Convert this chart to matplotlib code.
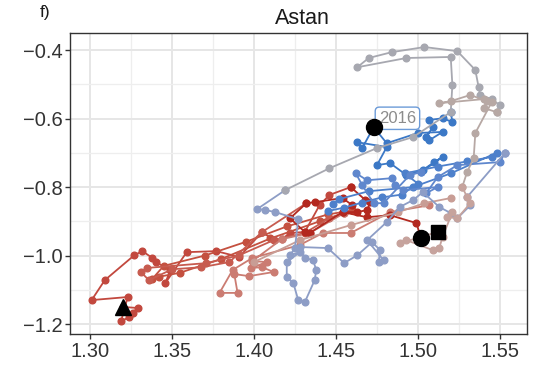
import matplotlib
matplotlib.use("Agg")
import matplotlib.pyplot as plt
from matplotlib.ticker import MultipleLocator

plt.rcParams['font.family'] = ['Liberation Sans', 'DejaVu Sans']

# ---- data ----
red_x = [1.320, 1.329, 1.326, 1.324, 1.319, 1.323, 1.301, 1.309, 1.327, 1.332, 1.338, 1.340,
         1.349, 1.346, 1.359, 1.377, 1.391, 1.405, 1.412, 1.417, 1.422, 1.431, 1.440, 1.446, 1.459]
red_y = [-1.150, -1.153, -1.168, -1.180, -1.191, -1.121, -1.130, -1.072, -0.999, -0.987, -1.007, -1.019,
         -1.042, -1.080, -0.990, -0.987, -1.004, -0.931, -0.955, -0.952, -0.934, -0.931, -0.853, -0.823, -0.800]

redextra_x = [1.338, 1.345, 1.370, 1.395, 1.420, 1.445, 1.460, 1.440, 1.410, 1.380, 1.355, 1.342]
redextra_y = [-1.068, -1.030, -1.000, -0.960, -0.915, -0.880, -0.868, -0.900, -0.950, -1.010, -1.050, -1.062]

darkred_x = [1.459, 1.468, 1.471, 1.469, 1.463, 1.454, 1.460, 1.454, 1.437, 1.432, 1.422, 1.431,
             1.434, 1.454, 1.469, 1.483, 1.499, 1.502]
darkred_y = [-0.800, -0.838, -0.844, -0.867, -0.873, -0.873, -0.853, -0.832, -0.844, -0.847, -0.891, -0.931,
             -0.934, -0.873, -0.888, -0.882, -0.905, -0.949]

red2_x = [1.432, 1.405, 1.385, 1.368, 1.350, 1.336, 1.331, 1.335, 1.371, 1.391, 1.412, 1.431, 1.446, 1.455]
red2_y = [-0.847, -0.931, -1.019, -1.034, -1.040, -1.072, -1.048, -1.036, -1.022, -0.999, -0.955, -0.934, -0.891, -0.876]

salmon_x = [1.455, 1.434, 1.417, 1.399, 1.408, 1.398, 1.405, 1.412, 1.397, 1.388, 1.390, 1.379,
            1.387, 1.399, 1.428, 1.442, 1.459, 1.483, 1.507]
salmon_y = [-0.876, -0.934, -0.952, -1.016, -1.019, -1.036, -1.034, -1.048, -1.060, -1.054, -1.109, -1.109,
            -1.042, -1.007, -0.969, -0.934, -0.934, -0.873, -0.853]

rose_x = [1.400, 1.428, 1.459, 1.488, 1.504, 1.520]
rose_y = [-1.019, -0.955, -0.911, -0.873, -0.847, -0.832]

blue_x = [1.520, 1.521, 1.515, 1.507, 1.509, 1.505, 1.507, 1.515, 1.500, 1.481, 1.473, 1.466,
          1.463, 1.481, 1.475, 1.483, 1.493, 1.503, 1.510, 1.515, 1.502]
blue_y = [-0.581, -0.610, -0.599, -0.604, -0.625, -0.654, -0.663, -0.639, -0.642, -0.672, -0.625, -0.686,
          -0.669, -0.683, -0.736, -0.730, -0.765, -0.750, -0.727, -0.712, -0.756]

blue2_x = [1.445, 1.455, 1.466, 1.478, 1.490, 1.500, 1.492, 1.512, 1.530, 1.545, 1.548, 1.520,
           1.497, 1.470, 1.452, 1.448]
blue2_y = [-0.870, -0.860, -0.845, -0.830, -0.822, -0.790, -0.760, -0.740, -0.725, -0.712, -0.700, -0.760,
           -0.800, -0.812, -0.835, -0.850]

midblue_x = [1.502, 1.495, 1.479, 1.473, 1.466, 1.462, 1.469, 1.484, 1.486, 1.491, 1.512, 1.505,
             1.512, 1.524, 1.550, 1.553]
midblue_y = [-0.756, -0.765, -0.847, -0.847, -0.794, -0.759, -0.780, -0.774, -0.794, -0.809, -0.800, -0.818,
             -0.771, -0.736, -0.727, -0.701]

slate_x = [1.553, 1.530, 1.532, 1.524, 1.520, 1.513, 1.503, 1.497, 1.489, 1.481, 1.469, 1.479,
           1.476, 1.477, 1.472, 1.463, 1.455, 1.445, 1.428, 1.431, 1.436, 1.438, 1.437, 1.431,
           1.427, 1.424, 1.420, 1.420, 1.428, 1.422, 1.425, 1.427, 1.413, 1.407, 1.402, 1.419]
slate_y = [-0.701, -0.829, -0.853, -0.891, -0.876, -0.858, -0.815, -0.838, -0.858, -0.902, -0.955, -1.013,
           -1.019, -0.984, -0.961, -0.999, -1.022, -0.978, -0.975, -1.007, -1.013, -1.042, -1.072, -1.136,
           -1.130, -1.080, -1.063, -1.019, -0.990, -0.999, -0.978, -0.894, -0.873, -0.867, -0.864, -0.809]

gray_x = [1.419, 1.446, 1.475, 1.497, 1.520, 1.521, 1.520, 1.493, 1.463, 1.470, 1.484, 1.504,
          1.524, 1.535, 1.537, 1.538, 1.545, 1.550, 1.548]
gray_y = [-0.809, -0.745, -0.686, -0.654, -0.581, -0.502, -0.420, -0.423, -0.450, -0.423, -0.406, -0.391,
          -0.403, -0.458, -0.508, -0.531, -0.543, -0.561, -0.581]

graybrown_x = [1.548, 1.540, 1.542, 1.532, 1.520, 1.513, 1.540, 1.545, 1.535, 1.534, 1.530, 1.527]
graybrown_y = [-0.581, -0.569, -0.549, -0.531, -0.549, -0.555, -0.543, -0.552, -0.642, -0.715, -0.756, -0.800]

roseend_x = [1.527, 1.530, 1.532, 1.524, 1.518, 1.521, 1.515, 1.513, 1.509, 1.493, 1.489, 1.512]
roseend_y = [-0.800, -0.829, -0.847, -0.891, -0.888, -0.873, -0.946, -0.978, -0.984, -0.955, -0.964, -0.931]

start_pt = (1.320, -1.150)
end_pt = (1.512, -0.931)
circle_x = [1.473, 1.502]
circle_y = [-0.624, -0.949]
label_text = "2016"
label_pos = (1.4875, -0.599)

x_ticks = [1.30, 1.35, 1.40, 1.45, 1.50, 1.55]
x_labels = ["1.30", "1.35", "1.40", "1.45", "1.50", "1.55"]
y_ticks = [-1.2, -1.0, -0.8, -0.6, -0.4]
y_labels = ["\u22121.2", "\u22121.0", "\u22120.8", "\u22120.6", "\u22120.4"]

segments = [
    (red_x, red_y, "#C2483E"),
    (redextra_x, redextra_y, "#C4503F"),
    (red2_x, red2_y, "#C75B4F"),
    (salmon_x, salmon_y, "#CB7C72"),
    (darkred_x, darkred_y, "#B3281F"),
    (rose_x, rose_y, "#C89D95"),
    (blue_x, blue_y, "#3B78C6"),
    (blue2_x, blue2_y, "#4D80CB"),
    (midblue_x, midblue_y, "#5F87CD"),
    (slate_x, slate_y, "#8D9DC6"),
    (gray_x, gray_y, "#A7A8B0"),
    (graybrown_x, graybrown_y, "#B7A8A4"),
    (roseend_x, roseend_y, "#C6A39D"),
]

fig = plt.figure(figsize=(5.33, 3.70), dpi=100)
ax = fig.add_axes([0.1313, 0.0973, 0.8574, 0.8135])

for xs, ys, c in segments:
    ax.plot(xs, ys, color=c, lw=1.3, marker="o", ms=4.8, mec=c, mfc=c, zorder=3)

ax.text(label_pos[0], label_pos[1], label_text, ha="center", va="center", fontsize=12,
        color="#8C8C8C", zorder=5,
        bbox=dict(boxstyle="round,pad=0.22,rounding_size=0.25", fc="white", ec="#6C9BD8", lw=1.0))
ax.plot(circle_x, circle_y, ls="none", marker="o", ms=11.5, color="black", zorder=6)
ax.plot([start_pt[0]], [start_pt[1]], ls="none", marker="^", ms=12, color="black", zorder=6)
ax.plot([end_pt[0]], [end_pt[1]], ls="none", marker="s", ms=10, color="black", zorder=6)

ax.set_xlim(1.2878, 1.5665)
ax.set_ylim(-1.229, -0.350)
ax.set_xticks(x_ticks)
ax.set_xticklabels(x_labels)
ax.set_yticks(y_ticks)
ax.set_yticklabels(y_labels)
ax.xaxis.set_minor_locator(MultipleLocator(0.025))
ax.yaxis.set_minor_locator(MultipleLocator(0.1))
ax.grid(which="major", color="#E6E6E6", lw=1.4, zorder=0)
ax.grid(which="minor", color="#EEEEEE", lw=0.9, zorder=0)
ax.set_axisbelow(True)
ax.tick_params(which="major", direction="out", length=3.5, width=1.0, color="#333333",
               labelsize=14.5, labelcolor="#333333", pad=2)
ax.tick_params(which="minor", length=0)
for s in ax.spines.values():
    s.set_color("#333333")
    s.set_linewidth(1.0)

fig.text(0.5676, 0.951, "Astan", ha="center", va="center", fontsize=15.5, color="#1A1A1A")
fig.text(0.085, 0.967, "f)", ha="center", va="center", fontsize=12.5, color="#1A1A1A")

fig.savefig("out.png", dpi=100)
